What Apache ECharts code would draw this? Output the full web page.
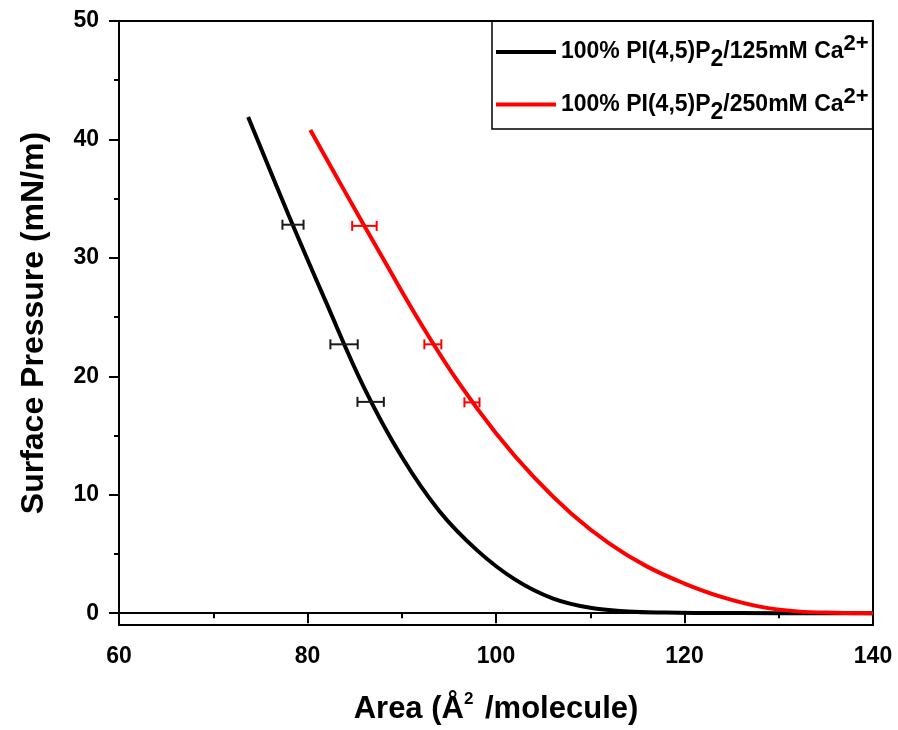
<!DOCTYPE html>
<html>
<head>
<meta charset="utf-8">
<script src="https://cdn.jsdelivr.net/npm/echarts@6/dist/echarts.min.js"></script>
<style>html,body{margin:0;padding:0;background:#fff}#c{width:898px;height:730px}</style>
</head>
<body>
<div id="c"></div>
<script>
// ---- data ----
const seriesNames = ['100% PI(4,5)P2/125mM Ca2+', '100% PI(4,5)P2/250mM Ca2+'];
const xTicks = [60, 80, 100, 120, 140];
const yTicks = [0, 10, 20, 30, 40, 50];
const yMinorTicks = [5, 15, 25, 35, 45];
const black125 = [
  [73.7, 41.9], [78, 33.6], [82, 26.2], [86, 19.05], [90, 13.2], [94, 8.6],
  [98, 5.3], [102, 2.85], [106, 1.25], [110, 0.45], [114, 0.15], [118, 0.05],
  [122, 0.02], [130, 0.0], [140, 0.0]
];
const red250 = [
  [80.3, 40.8], [84, 35.55], [88, 29.96], [92, 24.48], [96, 19.5], [100, 15.2],
  [104, 11.5], [108, 8.4], [112, 5.9], [116, 3.95], [120, 2.5], [124, 1.35],
  [128, 0.55], [132, 0.15], [136, 0.03], [140, 0.0]
];
// [x, y, half-width of x error]
const black125Err = [[78.46, 32.8, 1.12], [83.88, 22.7, 1.45], [86.7, 17.84, 1.4]];
const red250Err = [[86.04, 32.7, 1.3], [93.3, 22.7, 0.9], [97.45, 17.8, 0.8]];

const FONT = '"Liberation Sans", Arial, sans-serif';
const legendLabels = {
  [seriesNames[0]]: '100% PI(4,5)P{sub|2}/125mM Ca{sup|2+}',
  [seriesNames[1]]: '100% PI(4,5)P{sub|2}/250mM Ca{sup|2+}'
};

function errRender(color) {
  return function (params, api) {
    const x = api.value(0), y = api.value(1), e = api.value(2);
    const p1 = api.coord([x - e, y]);
    const p2 = api.coord([x + e, y]);
    const cap = 5;
    const st = { stroke: color, lineWidth: 2 };
    return {
      type: 'group',
      children: [
        { type: 'line', shape: { x1: p1[0], y1: p1[1], x2: p2[0], y2: p2[1] }, style: st },
        { type: 'line', shape: { x1: p1[0], y1: p1[1] - cap, x2: p1[0], y2: p1[1] + cap }, style: st },
        { type: 'line', shape: { x1: p2[0], y1: p2[1] - cap, x2: p2[0], y2: p2[1] + cap }, style: st }
      ]
    };
  };
}

const chart = echarts.init(document.getElementById('c'), null, { renderer: 'canvas' });
chart.setOption({
  animation: false,
  backgroundColor: '#fff',
  grid: { left: 119, right: 25, top: 21, bottom: 102, show: true, borderColor: '#000', borderWidth: 2, containLabel: false },
  legend: {
    data: seriesNames,
    orient: 'vertical',
    left: 492,
    top: 21,
    padding: [12, 4, 5, 4],
    itemGap: 14,
    itemWidth: 60,
    itemHeight: 4,
    icon: 'rect',
    borderColor: '#000',
    borderWidth: 1.5,
    formatter: function (name) { return legendLabels[name]; },
    textStyle: {
      fontFamily: FONT, fontSize: 23, fontWeight: 'bold', color: '#000',
      rich: {
        sub: { fontFamily: FONT, fontSize: 23, fontWeight: 'bold', color: '#000', padding: [16, 0, 0, 0] },
        sup: { fontFamily: FONT, fontSize: 22, fontWeight: 'bold', color: '#000', padding: [0, 0, 16, 0] }
      }
    }
  },
  xAxis: {
    type: 'value', min: 60, max: 140, interval: 20,
    axisLine: { show: true, lineStyle: { color: '#000', width: 2 } },
    axisTick: { show: true, length: 10, lineStyle: { color: '#000', width: 2 } },
    minorTick: { show: true, splitNumber: 2, length: 5, lineStyle: { color: '#000', width: 2 } },
    splitLine: { show: false },
    axisLabel: { margin: 20, fontFamily: FONT, fontSize: 23, fontWeight: 'bold', color: '#000',
      customValues: xTicks },
    name: 'Area (Å{sup|2} /molecule)',
    nameLocation: 'middle',
    nameGap: 66,
    nameTextStyle: {
      fontFamily: FONT, fontSize: 31, fontWeight: 'bold', color: '#000',
      rich: { sup: { fontFamily: FONT, fontSize: 17, fontWeight: 'bold', color: '#000', padding: [0, 3, 20, 0] } }
    }
  },
  yAxis: [{
    type: 'value', min: -1, max: 50,
    axisLine: { show: true, lineStyle: { color: '#000', width: 2 } },
    axisTick: { show: true, length: 10, customValues: yTicks, lineStyle: { color: '#000', width: 2 } },
    splitLine: { show: false },
    axisLabel: { margin: 20, fontFamily: FONT, fontSize: 23, fontWeight: 'bold', color: '#000', customValues: yTicks },
    name: 'Surface Pressure (mN/m)',
    nameLocation: 'middle',
    nameGap: 69,
    nameTextStyle: { fontFamily: FONT, fontSize: 32, fontWeight: 'bold', color: '#000' }
  }, {
    type: 'value', min: -1, max: 50, position: 'left',
    axisLine: { show: false },
    axisTick: { show: true, length: 5, customValues: yMinorTicks, lineStyle: { color: '#000', width: 2 } },
    axisLabel: { show: false, customValues: [] },
    splitLine: { show: false }
  }],
  series: [
    { name: seriesNames[0], type: 'line', data: black125, smooth: 0.4, showSymbol: false,
      color: '#000', lineStyle: { color: '#000', width: 4 }, z: 3 },
    { name: seriesNames[1], type: 'line', data: red250, smooth: 0.4, showSymbol: false,
      color: '#ff0000', lineStyle: { color: '#ff0000', width: 4 }, z: 3 },
    { name: 'err125', type: 'custom', data: black125Err, renderItem: errRender('#1a1a1a'), z: 4,
      encode: { x: 0, y: 1 } },
    { name: 'err250', type: 'custom', data: red250Err, renderItem: errRender('#ff0000'), z: 4,
      encode: { x: 0, y: 1 } }
  ]
});
</script>
</body>
</html>
